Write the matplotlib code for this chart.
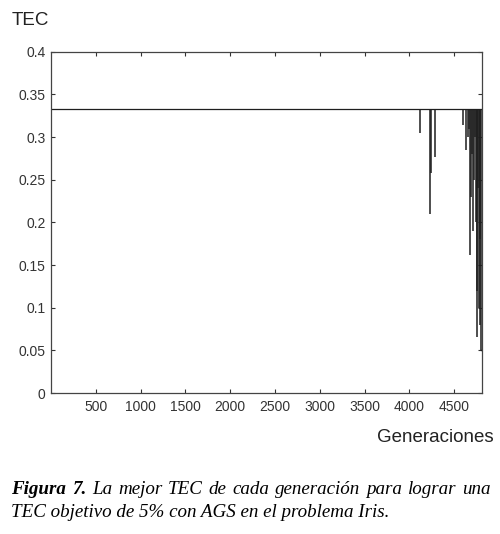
import numpy as np
import matplotlib
matplotlib.use('Agg')
import matplotlib.pyplot as plt

# best TEC per generation: flat at 1/3, with dips near the end
baseline = 0.3333
dip_gen = [4120, 4235, 4240, 4285, 4600, 4630, 4650, 4665, 4675, 4690, 4700,
           4712, 4722, 4732, 4742, 4752, 4760, 4768, 4776, 4784, 4792, 4800]
dip_tec = [0.305, 0.210, 0.258, 0.277, 0.314, 0.285, 0.300, 0.310, 0.162, 0.230, 0.280,
           0.190, 0.250, 0.300, 0.200, 0.066, 0.120, 0.240, 0.100, 0.180, 0.080, 0.050]
end_gen = [4800, 4812]
end_tec = [0.050, 0.050]

xticks = [500, 1000, 1500, 2000, 2500, 3000, 3500, 4000, 4500]
yticks = [0, 0.05, 0.1, 0.15, 0.2, 0.25, 0.3, 0.35, 0.4]
ylabels = ['0', '0.05', '0.1', '0.15', '0.2', '0.25', '0.3', '0.35', '0.4']

caption_1 = ['Figura', '7.', 'La', 'mejor', 'TEC', 'de', 'cada', 'generación', 'para',
             'lograr', 'una']
caption_bold = 2  # first two words bold
caption_2 = 'TEC objetivo de 5% con AGS en el problema Iris.'

plt.rcParams['font.family'] = ['Liberation Sans', 'DejaVu Sans']

fig = plt.figure(figsize=(5.0, 5.34), dpi=100)
ax = fig.add_axes([0.102, 0.264, 0.8626, 0.639])

lc = '#1e1e1e'
ax.plot([0, dip_gen[-1]], [baseline, baseline], color=lc, lw=0.9)
ax.vlines(dip_gen, dip_tec, baseline, color=lc, lw=1.1)
ax.plot(end_gen, end_tec, color=lc, lw=1.0)

ax.set_xlim(0, 4815)
ax.set_ylim(0, 0.4)
ax.set_xticks(xticks)
ax.set_xticklabels([str(t) for t in xticks])
ax.set_yticks(yticks)
ax.set_yticklabels(ylabels)
ax.tick_params(direction='in', length=3, width=0.8, labelsize=10, colors='#333333',
               top=True, right=True, pad=4)
ax.tick_params(axis='x', pad=5)
for s in ax.spines.values():
    s.set_color('#444444')
    s.set_linewidth(0.9)

fig.text(0.024, 0.953, 'TEC', fontsize=13.5, color='#222222', ha='left', va='baseline')
fig.text(0.988, 0.172, 'Generaciones', fontsize=13.5, color='#222222', ha='right', va='baseline')

# caption: first line justified between left and right margins
cap_size = 13.7
x_left, x_right = 0.022, 0.982
y1, y2 = 0.0749, 0.0318
words = []
for i, w in enumerate(caption_1):
    t = fig.text(x_left, y1, w, fontsize=cap_size, family='Liberation Serif', style='italic',
                 weight='bold' if i < caption_bold else 'normal', ha='left', va='baseline')
    words.append(t)
fig.canvas.draw()
r = fig.canvas.get_renderer()
widths = [t.get_window_extent(renderer=r).width / fig.bbox.width for t in words]
gap = (x_right - x_left - sum(widths)) / (len(words) - 1)
x = x_left
for t, w in zip(words, widths):
    t.set_x(x)
    x += w + gap
fig.text(x_left, y2, caption_2, fontsize=cap_size, family='Liberation Serif',
         style='italic', ha='left', va='baseline')

fig.savefig('out.png', dpi=100)
